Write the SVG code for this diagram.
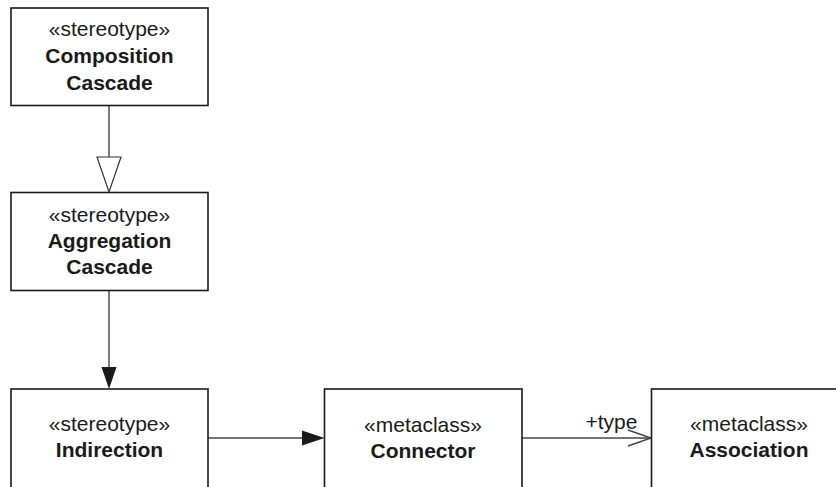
<svg xmlns="http://www.w3.org/2000/svg" width="836" height="487" viewBox="0 0 836 487">
<style>
.box{fill:#fff;stroke:#1a1a1a;stroke-width:1.6}
.t{font-family:"Liberation Sans",Arial,Helvetica,sans-serif;font-size:21px;fill:#1a1a1a;text-anchor:middle}
.b{font-weight:bold}
.ln{fill:none;stroke:#444;stroke-width:1.4}
</style>
<rect width="836" height="487" fill="#fff"/>
<g id="connectors">
  <line class="ln" x1="109" y1="106" x2="109" y2="157"/>
  <polygon points="97,157 121,157 109,192" fill="#fff" stroke="#333" stroke-width="1.2"/>
  <line class="ln" x1="109" y1="291" x2="109" y2="368"/>
  <polygon points="101.5,367 116.5,367 109,389" fill="#1a1a1a"/>
  <line class="ln" x1="208" y1="438" x2="303" y2="438"/>
  <polygon points="302,430.5 302,445.5 324.5,438" fill="#1a1a1a"/>
  <line class="ln" x1="522" y1="438" x2="651" y2="438"/>
  <polyline class="ln" points="628,430 651,438 628,446"/>
  <text class="t" x="611.5" y="429">+type</text>
</g>
<g id="composition-cascade">
  <rect class="box" x="11" y="8" width="197" height="97.5"/>
  <text class="t" x="109.5" y="36">«stereotype»</text>
  <text class="t b" x="109.5" y="63">Composition</text>
  <text class="t b" x="109.5" y="90">Cascade</text>
</g>
<g id="aggregation-cascade">
  <rect class="box" x="11" y="192.5" width="197" height="98"/>
  <text class="t" x="109.5" y="222">«stereotype»</text>
  <text class="t b" x="109.5" y="247.5">Aggregation</text>
  <text class="t b" x="109.5" y="273.5">Cascade</text>
</g>
<g id="indirection">
  <rect class="box" x="11" y="389" width="197" height="110"/>
  <text class="t" x="109.5" y="431">«stereotype»</text>
  <text class="t b" x="109.5" y="457">Indirection</text>
</g>
<g id="connector">
  <rect class="box" x="324.5" y="389" width="197.5" height="110"/>
  <text class="t" x="423" y="431.5">«metaclass»</text>
  <text class="t b" x="423" y="457.5">Connector</text>
</g>
<g id="association">
  <rect class="box" x="651.5" y="389" width="197" height="110"/>
  <text class="t" x="749" y="431">«metaclass»</text>
  <text class="t b" x="749" y="457">Association</text>
</g>
</svg>
